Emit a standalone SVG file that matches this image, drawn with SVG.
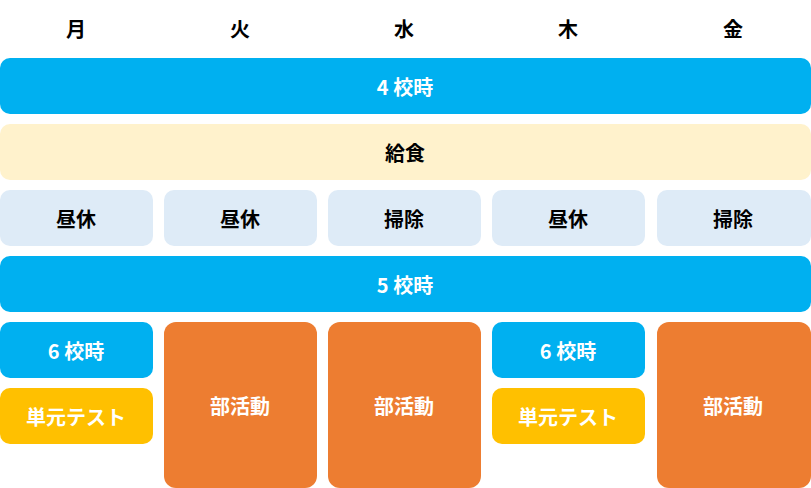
<svg xmlns="http://www.w3.org/2000/svg" width="811" height="488" viewBox="0 0 811 488">
<style>
text{font-family:"Noto Sans CJK JP","Liberation Sans",sans-serif;font-weight:bold;font-size:20px;text-anchor:middle;dominant-baseline:central}
.w{fill:#fff}.k{fill:#000}
.b{fill:#00B0F0}.c{fill:#FFF2CC}.l{fill:#DEEBF7}.o{fill:#ED7D31}.y{fill:#FFC000}
</style>
<rect width="811" height="488" fill="#fff"/>
<g id="header">
<text x="76" y="28" class="k">月</text><text x="240" y="28" class="k">火</text><text x="404" y="28" class="k">水</text><text x="568" y="28" class="k">木</text><text x="733" y="28" class="k">金</text>
</g>
<g id="p4"><rect x="0" y="58" width="811" height="56" rx="10" class="b"/><text x="405" y="86" class="w">4 校時</text></g>
<g id="lunch"><rect x="0" y="124" width="811" height="56" rx="10" class="c"/><text x="405" y="152" class="k">給食</text></g>
<g id="r1"><rect x="0" y="190" width="153" height="56" rx="10" class="l"/><text x="76" y="218" class="k">昼休</text></g>
<g id="r2"><rect x="164" y="190" width="153" height="56" rx="10" class="l"/><text x="240" y="218" class="k">昼休</text></g>
<g id="r3"><rect x="328" y="190" width="153" height="56" rx="10" class="l"/><text x="404" y="218" class="k">掃除</text></g>
<g id="r4"><rect x="492" y="190" width="153" height="56" rx="10" class="l"/><text x="568" y="218" class="k">昼休</text></g>
<g id="r5"><rect x="657" y="190" width="154" height="56" rx="10" class="l"/><text x="733" y="218" class="k">掃除</text></g>
<g id="p5"><rect x="0" y="256" width="811" height="56" rx="10" class="b"/><text x="405" y="284" class="w">5 校時</text></g>
<g id="m6"><rect x="0" y="322" width="153" height="56" rx="10" class="b"/><text x="76" y="350" class="w">6 校時</text></g>
<g id="mt"><rect x="0" y="388" width="153" height="56" rx="10" class="y"/><text x="76" y="416" class="w">単元テスト</text></g>
<g id="tu"><rect x="164" y="322" width="153" height="166" rx="12" class="o"/><text x="240" y="405" class="w">部活動</text></g>
<g id="we"><rect x="328" y="322" width="153" height="166" rx="12" class="o"/><text x="404" y="405" class="w">部活動</text></g>
<g id="t6"><rect x="492" y="322" width="153" height="56" rx="10" class="b"/><text x="568" y="350" class="w">6 校時</text></g>
<g id="tt"><rect x="492" y="388" width="153" height="56" rx="10" class="y"/><text x="568" y="416" class="w">単元テスト</text></g>
<g id="fr"><rect x="657" y="322" width="154" height="166" rx="12" class="o"/><text x="733" y="405" class="w">部活動</text></g>
<g id="connectors"/>
</svg>
